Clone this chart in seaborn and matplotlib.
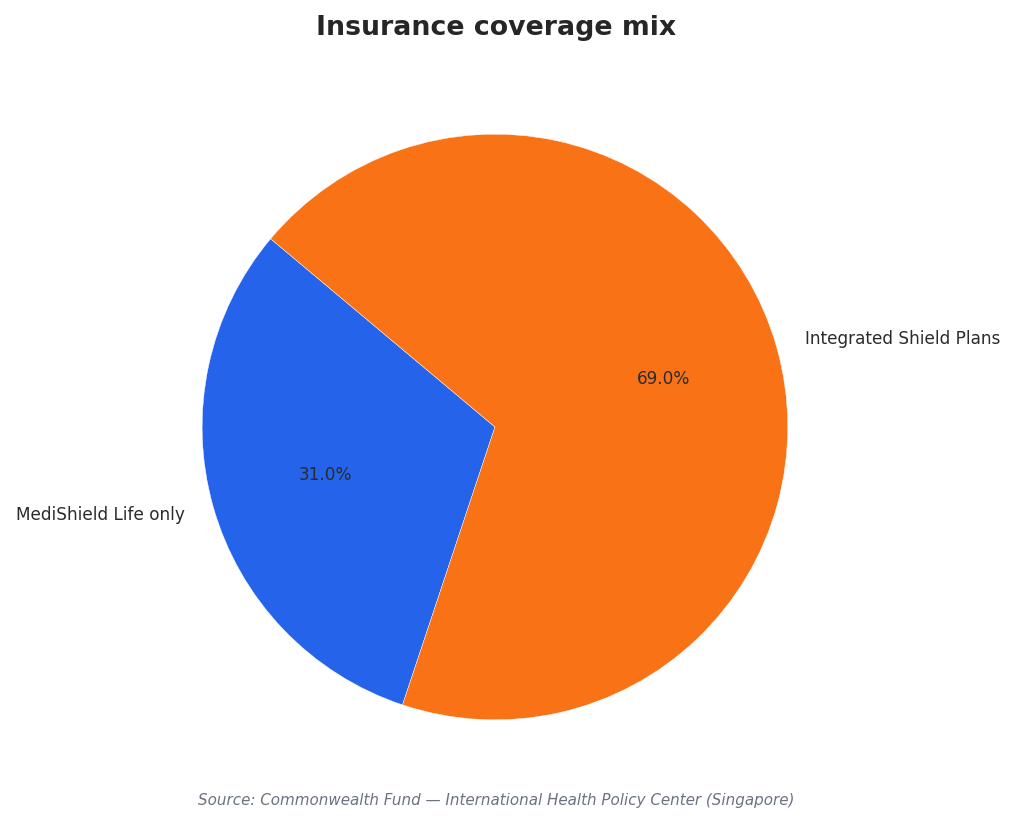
import matplotlib
matplotlib.use("Agg")
import matplotlib.pyplot as plt
import seaborn as sns

# coverage shares (%)
labels = ["MediShield Life only", "Integrated Shield Plans"]
shares = [31.0, 69.0]
colors = ["#2563eb", "#f97316"]

sns.set_theme(style="white")
plt.rcParams["font.family"] = ["DejaVu Sans"]

fig = plt.figure(figsize=(10.18, 8.24), dpi=100)
ax = fig.add_axes([0.0862, 0.0376, 0.8, 0.8884])

wedges, texts, autotexts = ax.pie(
    shares, labels=labels, colors=colors, autopct="%1.1f%%",
    startangle=140, counterclock=True,
    wedgeprops=dict(edgecolor="white", linewidth=0.3),
    textprops=dict(color="#2b2b2b", fontsize=12.2),
)
for t in autotexts:
    t.set_color("#2b2b2b")
    t.set_fontsize(12.2)
ax.set_aspect("equal")

fig.text(0.487, 0.966, "Insurance coverage mix", ha="center", va="center",
         fontsize=19.3, fontweight="bold", color="#262626")
fig.text(0.487, 0.029, "Source: Commonwealth Fund \u2014 International Health Policy Center (Singapore)",
         ha="center", va="center", fontsize=10.9, style="italic", color="#6b7280")

fig.savefig("out.png", dpi=100, facecolor="white")
